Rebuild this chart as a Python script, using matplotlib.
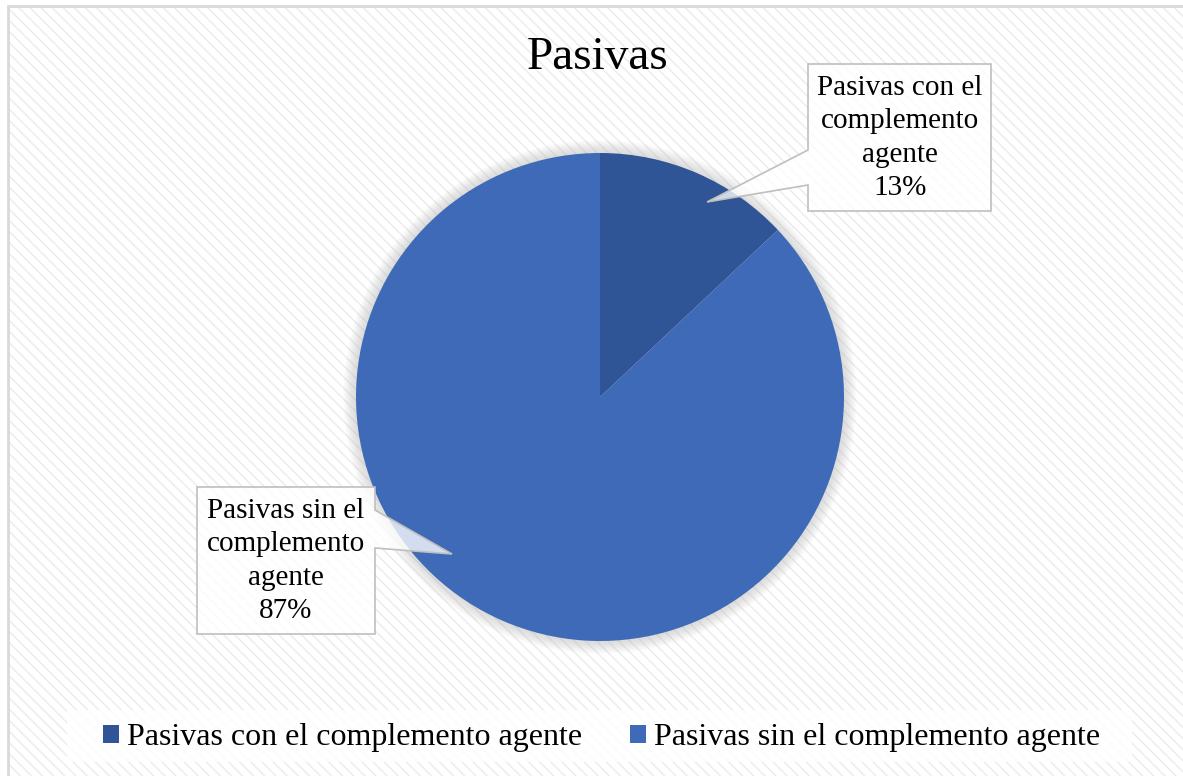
import textwrap
import matplotlib
matplotlib.use("Agg")
import matplotlib.pyplot as plt
from matplotlib.patches import Rectangle, Polygon, Circle

# data
labels = ["Pasivas con el complemento agente", "Pasivas sin el complemento agente"]
shares = [13, 87]
colors = ["#2F5597", "#3F6AB7"]
title = "Pasivas"

W, H = 1183, 776
plt.rcParams['font.family'] = ['Liberation Serif', 'DejaVu Serif']


def Y(y):
    # image rows -> axes coords (pixels, origin bottom-left)
    return H - y


fig = plt.figure(figsize=(W / 100, H / 100), dpi=100)
ax = fig.add_axes([0, 0, 1, 1])

# hatched chart area and frame
ax.add_patch(Rectangle((9, Y(H + 20)), W + 20, H + 13, facecolor="white",
                       edgecolor="#EBEBEB", lw=0, hatch="\\\\\\", zorder=0))
ax.add_patch(Rectangle((8, Y(H + 20)), W + 20, H + 14, facecolor="none",
                       edgecolor="#D9D9D9", lw=2, zorder=1))

# pie with soft shadow
cx, cy, r = 600, Y(397), 244
for k in range(1, 14):
    ax.add_patch(Circle((cx, cy), r + k, facecolor="#808080", edgecolor="none",
                        alpha=0.018, zorder=2))
wedges, _ = ax.pie(shares, colors=colors, startangle=90, counterclock=False,
                   center=(cx, cy), radius=r, wedgeprops=dict(linewidth=0))
for w in wedges:
    w.set_zorder(3)

# callouts
callouts = [
    [(808, 64), (991, 64), (991, 211), (808, 211), (808, 185), (707, 202), (808, 150)],
    [(197, 487), (375, 487), (375, 510), (452, 554), (375, 548), (375, 634), (197, 634)],
]
text_pos = [(900, 138), (286, 561)]
for pts, (tx, ty), lab, val in zip(callouts, text_pos, labels, shares):
    ax.add_patch(Polygon([(x, Y(y)) for x, y in pts], closed=True, facecolor="white",
                         alpha=0.78, edgecolor="none", zorder=4))
    ax.add_patch(Polygon([(x, Y(y)) for x, y in pts], closed=True, facecolor="none",
                         edgecolor="#BFBFBF", lw=1.2, zorder=5))
    ax.text(tx, Y(ty), f"{textwrap.fill(lab, 14)}\n{val}%", ha="center", va="center",
            fontsize=21, linespacing=1.38, color="black", zorder=6)

# title
ax.text(598, Y(58), title, ha="center", va="center", fontsize=34, color="black", zorder=6)

# legend
ax.add_patch(Rectangle((67, Y(762)), 1065, 52, facecolor="white", alpha=0.85,
                       edgecolor="none", zorder=4))
fig.legend(wedges, labels, loc="center", bbox_to_anchor=(602 / W, Y(738) / H),
           ncol=2, frameon=False, fontsize=23, handlelength=0.5, handleheight=0.5,
           handletextpad=0.25, columnspacing=1.5)

ax.set_xlim(0, W)
ax.set_ylim(0, H)
ax.set_aspect("auto")
ax.set_axis_off()

fig.savefig("out.png", dpi=100)
